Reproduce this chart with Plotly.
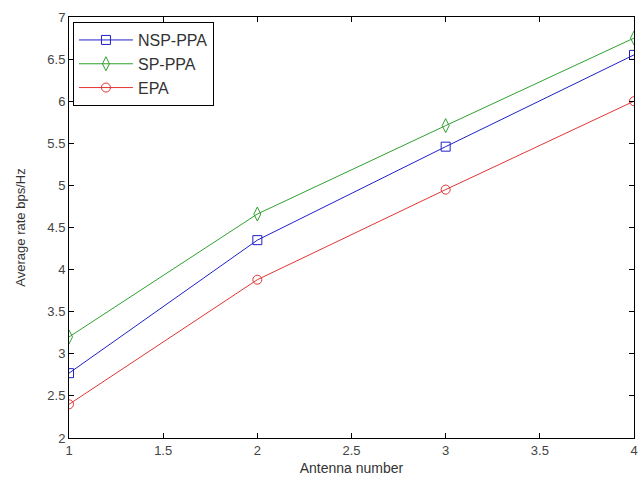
import plotly.graph_objects as go

antennas = [1, 2, 3, 4]
nsp_ppa = [2.77, 4.35, 5.46, 6.55]
sp_ppa = [3.20, 4.66, 5.71, 6.75]
epa = [2.40, 3.88, 4.95, 6.00]

x_ticks = [1, 1.5, 2, 2.5, 3, 3.5, 4]
y_ticks = [2, 2.5, 3, 3.5, 4, 4.5, 5, 5.5, 6, 6.5, 7]

fig = go.Figure()
fig.add_trace(go.Scatter(x=antennas, y=nsp_ppa, name="NSP-PPA", mode="lines+markers",
                         line=dict(color="#2020c8", width=1),
                         marker=dict(symbol="square-open", size=9, color="#2020c8", line=dict(width=1))))
fig.add_trace(go.Scatter(x=antennas, y=sp_ppa, name="SP-PPA", mode="lines+markers",
                         line=dict(color="#30a030", width=1),
                         marker=dict(symbol="diamond-tall-open", size=10, color="#30a030", line=dict(width=1))))
fig.add_trace(go.Scatter(x=antennas, y=epa, name="EPA", mode="lines+markers",
                         line=dict(color="#e03535", width=1),
                         marker=dict(symbol="circle-open", size=9, color="#e03535", line=dict(width=1))))

axis_common = dict(showgrid=False, zeroline=False, showline=True, linecolor="black", linewidth=1,
                   mirror="ticks", ticks="inside", ticklen=5, tickcolor="black",
                   ticklabeloverflow="allow",
                   tickfont=dict(family="Liberation Sans, Arial", size=13, color="#444444"))

fig.update_xaxes(range=[1, 4], tickvals=x_ticks, ticktext=[str(v) if v != int(v) else str(int(v)) for v in x_ticks],
                 title=dict(text="Antenna number", font=dict(family="Liberation Sans, Arial", size=14, color="#333333"), standoff=6),
                 **axis_common)
fig.update_yaxes(range=[2, 7], tickvals=y_ticks, ticktext=[str(v) if v != int(v) else str(int(v)) for v in y_ticks],
                 title=dict(text="Average rate bps/Hz", font=dict(family="Liberation Sans, Arial", size=13, color="#333333"), standoff=18),
                 **axis_common)

fig.update_layout(
    width=640, height=482,
    margin=dict(l=69, r=2, t=17, b=44),
    plot_bgcolor="white", paper_bgcolor="white",
    legend=dict(x=0.007, y=0.988, xanchor="left", yanchor="top",
                bordercolor="black", borderwidth=1, bgcolor="white",
                font=dict(family="Liberation Sans, Arial", size=16, color="#333333"),
                itemwidth=54, tracegroupgap=0),
    showlegend=True,
)

fig.write_html("out.html")
